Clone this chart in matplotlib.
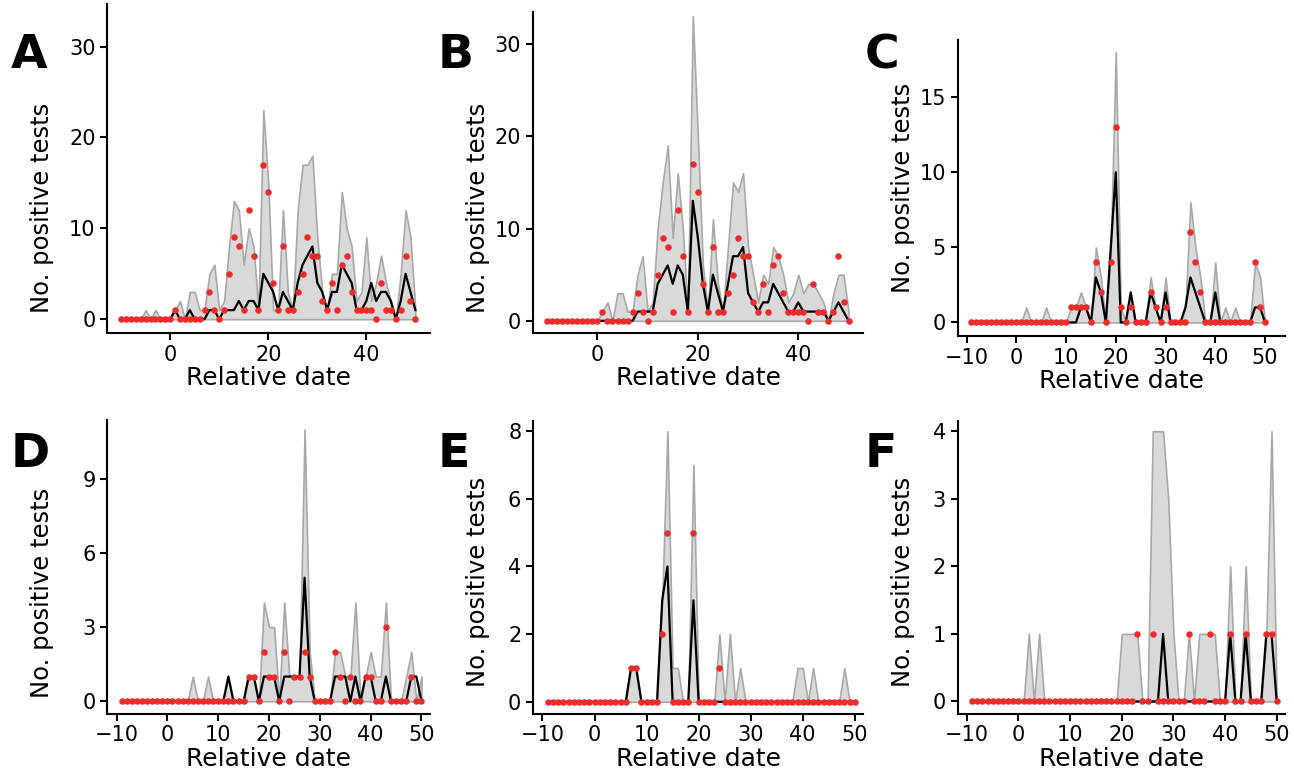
import numpy as np
import matplotlib
matplotlib.use("Agg")
import matplotlib.pyplot as plt

# days: A, B run -10..50 ; C-F run -9..50
days_ab = np.arange(-10, 51)
days_cf = np.arange(-9, 51)

obs_ab = [0]*11 + [1, 0, 0, 0, 0, 0, 1, 3, 1, 0, 1, 5, 9, 8, 1, 12, 7, 1, 17, 14,
                   4, 1, 8, 1, 1, 3, 5, 9, 7, 7, 2, 1, 4, 1, 6, 7, 3, 1, 1, 1,
                   1, 0, 4, 1, 1, 0, 1, 7, 2, 0]

med_a = [0]*11 + [1, 0, 0, 1, 0, 0, 0, 1, 1, 0, 1, 1, 1, 2, 1, 2, 2, 1, 5, 4,
                  3, 1, 3, 2, 1, 4, 6, 7, 8, 4, 3, 1, 3, 3, 6, 5, 4, 1, 1, 2,
                  4, 2, 3, 3, 2, 0, 2, 5, 3, 1]
up_a = [0, 0, 0, 0, 0, 1, 0, 1, 0, 0, 0] + [1, 2, 0, 3, 3, 1, 1, 5, 6, 1, 2, 8, 13, 12, 6, 10, 8, 1, 23, 15,
                                            1, 1, 12, 3, 1, 12, 17, 17, 18, 9, 3, 1, 5, 5, 14, 10, 8, 2, 3, 9,
                                            2, 4, 7, 4, 2, 0, 5, 12, 9, 1]

med_b = [0]*11 + [0, 0, 0, 0, 0, 0, 0, 1, 1, 1, 1, 4, 5, 6, 4, 6, 5, 1, 13, 9,
                  4, 1, 5, 3, 1, 4, 7, 7, 8, 3, 2, 1, 2, 2, 4, 3, 2, 1, 1, 2,
                  1, 1, 1, 1, 1, 0, 1, 2, 1, 0]
up_b = [0]*11 + [1, 2, 0, 3, 3, 1, 1, 5, 7, 1, 2, 10, 15, 19, 9, 16, 10, 1, 33, 20,
                 6, 1, 11, 4, 1, 8, 15, 14, 16, 8, 5, 2, 5, 4, 8, 7, 5, 2, 3, 5,
                 3, 4, 4, 3, 2, 0, 3, 5, 5, 1]

obs_c = [0]*20 + [1, 1, 1, 1, 0, 4, 2, 0, 4, 13, 1, 0, 1, 0, 0, 0, 2, 1, 0, 1,
                  0, 0, 0, 0, 6, 4, 2, 0, 0, 0, 0, 0, 0, 0, 0, 0, 0, 4, 1, 0]
med_c = [0]*20 + [0, 0, 1, 1, 0, 3, 2, 0, 5, 10, 0, 0, 2, 0, 0, 0, 2, 1, 0, 2,
                  0, 0, 0, 1, 3, 2, 1, 0, 0, 2, 0, 0, 0, 0, 0, 0, 0, 1, 1, 0]
up_c = [0]*11 + [1, 0, 0, 0, 1, 0, 0, 0, 0] + [1, 1, 2, 1, 0, 5, 3, 0, 5, 18, 1, 0, 2, 0, 0, 0, 3, 1, 0, 3,
                                               0, 0, 0, 1, 8, 5, 3, 0, 0, 4, 0, 1, 0, 1, 0, 0, 0, 4, 3, 0]

obs_d = [0]*25 + [1, 1, 0, 2, 1, 1, 0, 2, 0, 1, 1, 2, 1, 0, 0, 0, 0, 2, 1, 0,
                  1, 0, 0, 1, 1, 0, 0, 3, 0, 0, 0, 0, 1, 0, 0]
med_d = [0]*21 + [1, 0, 0, 0, 1, 1, 0, 1, 1, 1, 0, 1, 1, 1, 1, 5, 1, 0, 0, 0,
                  0, 1, 1, 1, 0, 1, 0, 1, 1, 0, 0, 1, 0, 0, 0, 0, 1, 1, 0]
up_d = [0]*14 + [1, 0, 0, 1, 0, 0, 0, 1, 0, 0, 0, 1, 1, 0, 4, 3, 3, 0, 4, 1, 1, 1, 11,
                 2, 0, 0, 0, 0, 2, 2, 1, 1, 4, 0, 1, 2, 1, 1, 4, 0, 0, 0, 1, 2, 0, 1]

obs_e = [0]*16 + [1, 1, 0, 0, 0, 0, 2, 5, 0, 0, 0, 0, 5, 0, 0, 0, 0, 1] + [0]*26
med_e = [0]*16 + [1, 1, 0, 0, 0, 0, 3, 4, 0, 0, 0, 0, 3, 0, 0, 0, 0, 0] + [0]*26
up_e = [0]*16 + [1, 1, 0, 0, 0, 0, 3, 8, 1, 1, 0, 0, 7, 0, 0, 0, 0, 2, 0, 2, 0, 1] + [0]*10 + \
       [1, 1, 0, 1, 0, 0, 0, 0, 0, 1, 0, 0]

obs_f = [0]*32 + [1, 0, 0, 1] + [0]*6 + [1, 0, 0, 0, 1, 0, 0, 0, 1, 0, 0, 1, 0, 0, 0, 1, 1, 0]
med_f = [0]*37 + [1] + [0]*12 + [1, 0, 0, 1, 0, 0, 0, 1, 1, 0]
up_f = [0]*11 + [1, 0, 1] + [0]*15 + [1, 1, 1, 1, 0, 0, 4, 4, 4, 3, 1, 0, 0, 1, 0, 1, 1, 1, 1,
                                      0, 0, 2, 0, 0, 2, 0, 0, 0, 1, 4, 0]

panels = [
    ("A", days_ab, obs_ab, med_a, up_a, [0, 10, 20, 30], [0, 20, 40], (-12.8, 52.9), (-1.5, 34.7)),
    ("B", days_ab, obs_ab, med_b, up_b, [0, 10, 20, 30], [0, 20, 40], (-12.8, 52.9), (-1.3, 33.5)),
    ("C", days_cf, obs_c, med_c, up_c, [0, 5, 10, 15], range(-10, 51, 10), (-11.8, 54), (-0.9, 18.8)),
    ("D", days_cf, obs_d, med_d, up_d, [0, 3, 6, 9], range(-10, 51, 10), (-11.8, 51.6), (-0.5, 11.4)),
    ("E", days_cf, obs_e, med_e, up_e, [0, 2, 4, 6, 8], range(-10, 51, 10), (-11.8, 51.6), (-0.35, 8.3)),
    ("F", days_cf, obs_f, med_f, up_f, [0, 1, 2, 3, 4], range(-10, 51, 10), (-11.8, 51.6), (-0.18, 4.15)),
]

boxes = [
    [0.083, 0.570, 0.249, 0.425],
    [0.412, 0.570, 0.255, 0.415],
    [0.740, 0.566, 0.253, 0.382],
    [0.083, 0.078, 0.249, 0.380],
    [0.412, 0.078, 0.255, 0.378],
    [0.740, 0.078, 0.253, 0.378],
]
label_y = [0.38, 0.39, 0.5, 0.41, 0.45, 0.45]
letter_pos = [(0.008, 0.912), (0.338, 0.912), (0.668, 0.912),
              (0.008, 0.397), (0.338, 0.397), (0.668, 0.397)]

fig = plt.figure(figsize=(12.94, 7.74), dpi=100)
for (letter, x, obs, med, up, yt, xt, xl, yl), box, lp, ly in zip(panels, boxes, letter_pos, label_y):
    ax = fig.add_axes(box)
    ax.fill_between(x, 0, up, color="#d9d9d9", edgecolor="#a8a8a8", linewidth=1.2)
    ax.plot(x, med, color="black", lw=1.6)
    ax.scatter(x, obs, color="#ee2b2b", s=22, zorder=3, linewidths=0)
    ax.set_xlim(*xl)
    ax.set_ylim(*yl)
    ax.set_yticks(yt)
    ax.set_xticks(list(xt))
    ax.set_xticklabels([str(v).replace("-", "\u2212") for v in xt])
    for s in ["top", "right"]:
        ax.spines[s].set_visible(False)
    for s in ["left", "bottom"]:
        ax.spines[s].set_linewidth(1.5)
    ax.tick_params(labelsize=15, width=1.5, length=5)
    ax.set_xlabel("Relative date", fontsize=18, labelpad=1)
    ax.set_ylabel("No. positive tests", fontsize=17.5, labelpad=6)
    ax.yaxis.set_label_coords(-0.165 if letter in "AD" else -0.13, ly)
    fig.text(lp[0], lp[1], letter, fontsize=34, fontweight="bold")

fig.savefig("out.png", dpi=100)
